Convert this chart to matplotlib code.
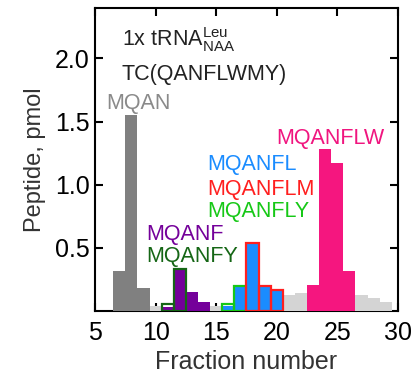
import matplotlib
matplotlib.use("Agg")
from matplotlib import pyplot as plt

plt.rcParams['font.family'] = ['Liberation Sans', 'DejaVu Sans']

# data (fraction number -> pmol)
bg_x = [10, 15, 21, 22, 27, 28, 29]
bg_y = [0.04, 0.04, 0.125, 0.14, 0.125, 0.10, 0.07]

mqan_x = [7, 8, 9]
mqan_y = [0.32, 1.55, 0.18]

mqanf_x = [11, 12, 13, 14]
mqanf_y = [0.035, 0.33, 0.15, 0.075]

mqanfy_x = [11, 12]
mqanfy_y = [0.06, 0.33]

mqanfl_x = [16, 17, 18, 19, 20]
mqanfl_y = [0.04, 0.2, 0.54, 0.2, 0.165]

mqanfly_x = [16, 17]
mqanfly_y = [0.06, 0.2]

mqanflm_x = [18, 19, 20]
mqanflm_y = [0.54, 0.2, 0.165]

mqanflw_x = [23, 24, 25, 26]
mqanflw_y = [0.205, 1.28, 1.17, 0.32]

fig = plt.figure(figsize=(4.17, 3.78), dpi=100)
ax = fig.add_axes([0.228, 0.177, 0.726, 0.802])

# filled bars
ax.bar(bg_x, bg_y, width=1, color="#d4d4d4", zorder=3)
ax.bar(mqan_x, mqan_y, width=1, color="#808080", zorder=3)
ax.bar(mqanf_x, mqanf_y, width=1, color="#74009a", zorder=3)
ax.bar(mqanfl_x, mqanfl_y, width=1, color="#1a8cff", zorder=3)
ax.bar(mqanflw_x, mqanflw_y, width=1, color="#f5167f", zorder=3)

# outlined bars
ax.bar(mqanfy_x, mqanfy_y, width=1, fill=False, edgecolor="#156615", linewidth=1.6, zorder=4)
ax.bar(mqanfly_x, mqanfly_y, width=1, fill=False, edgecolor="#16c816", linewidth=1.6, zorder=4)
ax.bar(mqanflm_x, mqanflm_y, width=1, fill=False, edgecolor="#ff1f1f", linewidth=1.6, zorder=4)

# labels
fs = 15.5
ax.text(7.2, 2.15, r"1x tRNA$^{\mathregular{Leu}}_{\mathregular{NAA}}$", fontsize=15.5, color="#222222", va="center")
ax.text(7.2, 1.87, "TC(QANFLWMY)", fontsize=15.5, color="#222222", va="center")
ax.text(5.9, 1.64, "MQAN", fontsize=fs, color="#8a8a8a", va="center")
ax.text(20.0, 1.37, "MQANFLW", fontsize=fs, color="#f0157f", va="center")
ax.text(14.3, 1.16, "MQANFL", fontsize=fs, color="#1a8cff", va="center")
ax.text(14.3, 0.96, "MQANFLM", fontsize=fs, color="#ff1f1f", va="center")
ax.text(14.3, 0.79, "MQANFLY", fontsize=fs, color="#16c816", va="center")
ax.text(9.2, 0.61, "MQANF", fontsize=fs, color="#74009a", va="center")
ax.text(9.2, 0.43, "MQANFY", fontsize=fs, color="#156615", va="center")

ax.set_xlim(5, 30)
ax.set_ylim(0, 2.4)
ax.set_xticks(range(5, 31, 5))
ax.set_yticks([0.5, 1.0, 1.5, 2.0])
ax.tick_params(direction="in", length=6, width=1.5, labelsize=18,
               top=True, right=True)
ax.tick_params(axis="x", pad=7)
ax.tick_params(axis="y", pad=4)
for s in ax.spines.values():
    s.set_linewidth(1.5)

ax.set_xlabel("Fraction number", fontsize=18, color="#333333", labelpad=4)
ax.set_ylabel("Peptide, pmol", fontsize=17, color="#333333", labelpad=6)

plt.savefig("out.png")
